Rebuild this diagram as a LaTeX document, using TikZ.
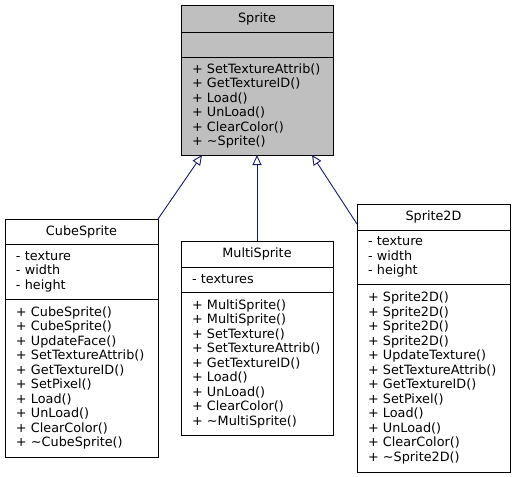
\documentclass[tikz,border=0pt]{standalone}
\usepackage{xcolor}
\usepackage{fontspec}
\setmainfont{DejaVu Sans}
\usepackage{tikz}
\usetikzlibrary{arrows.meta,positioning}

\definecolor{basefill}{HTML}{BFBFBF}
\definecolor{edgeblue}{HTML}{191970}

\begin{document}
\begin{tikzpicture}[x=1pt, y=-1pt,
    font=\fontsize{12.8}{14.5}\selectfont,
    node distance=0pt, line width=0.9pt,
    part/.style={draw, fill=white, inner xsep=11pt, inner ysep=0pt, outer sep=0pt, anchor=north west, minimum width=#1},
    head/.style={part=#1, align=center, text width=#1-22pt},
    list/.style={part=#1, align=left, text width=#1-22pt},
    inherit/.style={draw=edgeblue, -{Triangle[open, length=10pt, width=9pt]}}]

  \useasboundingbox (0,0) rectangle (515,477);

  % --- Base class ---
  \node[head=152pt, fill=basefill, minimum height=27pt] (base) at (181,5) {Sprite};
  \node[list=152pt, fill=basefill, minimum height=25pt, below=of base] (baseattr) {};
  \node[list=152pt, fill=basefill, minimum height=98pt, below=of baseattr] (baseops)
    {+ SetTextureAttrib()\\+ GetTextureID()\\+ Load()\\+ UnLoad()\\+ ClearColor()\\+ \textasciitilde Sprite()};

  % --- Derived classes ---
  \node[head=153pt, minimum height=25pt] (cube) at (5,219) {CubeSprite};
  \node[list=153pt, minimum height=55pt, below=of cube] (cubeattr) {- texture\\- width\\- height};
  \node[list=153pt, minimum height=158pt, below=of cubeattr] (cubeops)
    {+ CubeSprite()\\+ CubeSprite()\\+ UpdateFace()\\+ SetTextureAttrib()\\+ GetTextureID()\\+ SetPixel()\\+ Load()\\+ UnLoad()\\+ ClearColor()\\+ \textasciitilde CubeSprite()};

  \node[head=152pt, minimum height=26pt] (multi) at (181,241) {MultiSprite};
  \node[list=152pt, minimum height=25pt, below=of multi] (multiattr) {- textures};
  \node[list=152pt, minimum height=143pt, below=of multiattr] (multiops)
    {+ MultiSprite()\\+ MultiSprite()\\+ SetTexture()\\+ SetTextureAttrib()\\+ GetTextureID()\\+ Load()\\+ UnLoad()\\+ ClearColor()\\+ \textasciitilde MultiSprite()};

  \node[head=153pt, minimum height=26pt] (flat) at (357,204) {Sprite2D};
  \node[list=153pt, minimum height=54pt, below=of flat] (flatattr) {- texture\\- width\\- height};
  \node[list=153pt, minimum height=188pt, below=of flatattr] (flatops)
    {+ Sprite2D()\\+ Sprite2D()\\+ Sprite2D()\\+ Sprite2D()\\+ UpdateTexture()\\+ SetTextureAttrib()\\+ GetTextureID()\\+ SetPixel()\\+ Load()\\+ UnLoad()\\+ ClearColor()\\+ \textasciitilde Sprite2D()};

  % --- Inheritance ---
  \draw[inherit] (cube.north east) -- ([xshift=-55pt]baseops.south);
  \draw[inherit] (multi.north) -- (baseops.south);
  \draw[inherit] ([yshift=-20pt]flat.north west) -- ([xshift=55pt]baseops.south);
\end{tikzpicture}
\end{document}
